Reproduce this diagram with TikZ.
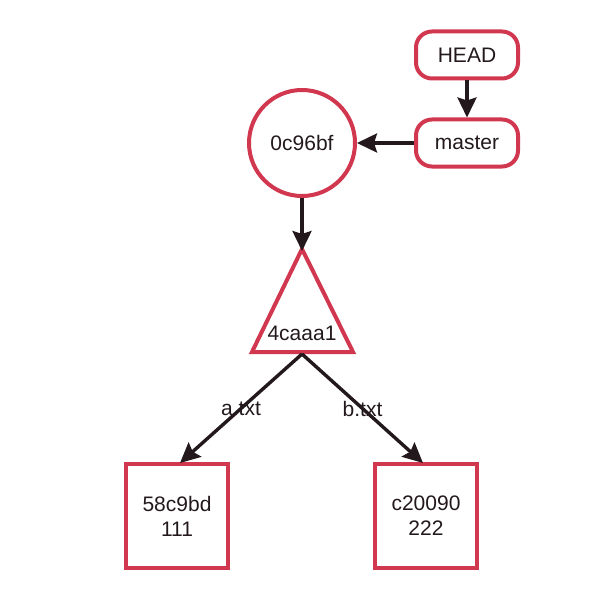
\documentclass[tikz,border=0pt]{standalone}
\usepackage{fontspec}
\setmainfont{Liberation Sans}
\usetikzlibrary{arrows.meta}
\definecolor{gred}{RGB}{210,55,80}
\definecolor{gink}{RGB}{35,25,28}
\begin{document}
\begin{tikzpicture}[x=1pt,y=-1pt,
  every node/.style={font=\fontsize{21}{25}\selectfont, text=gink},
  refbox/.style={draw=gred, line width=4pt, rounded corners=16pt, minimum width=102pt, minimum height=47pt, inner sep=0pt},
  objcircle/.style={draw=gred, line width=4pt, circle, minimum size=106pt, inner sep=0pt},
  blobbox/.style={draw=gred, line width=4pt, minimum width=102pt, minimum height=104pt, inner sep=0pt, align=center},
  conn/.style={draw=gink, line width=3.4pt, -{Stealth[length=20pt,width=19pt,inset=3pt]}},
  edgelabel/.style={font=\fontsize{21}{24}\selectfont, inner sep=0pt}
]
\useasboundingbox (0,0) rectangle (593,596);
\node[refbox] (head) at (467,55) {HEAD};
\node[refbox] (master) at (467,143) {master};
\node[objcircle] (commit) at (302,143) {0c96bf};
% tree (triangle)
\coordinate (tritop) at (302,249);
\coordinate (trileft) at (252,352);
\coordinate (triright) at (353,352);
\coordinate (tribot) at (302,354);
\draw[draw=gred, line width=4pt, line join=miter] (tritop) -- (triright) -- (trileft) -- cycle;
\node (tree) at (302,333) {4caaa1};
\node[blobbox] (blobA) at (177,516) {58c9bd\\111};
\node[blobbox] (blobB) at (426,516) {c20090\\222};
\coordinate (blobAtip) at (180,463);
\coordinate (blobBtip) at (423,463);
\draw[conn] (head.south) -- (master.north);
\draw[conn] (master.west) -- (commit.east);
\draw[conn] (commit.south) -- ([yshift=-2pt]tritop);
\draw[conn] (tribot) -- node[edgelabel] (la) {a.txt} (blobAtip);
\draw[conn] (tribot) -- node[edgelabel] (lb) {b.txt} (blobBtip);
\end{tikzpicture}
\end{document}
